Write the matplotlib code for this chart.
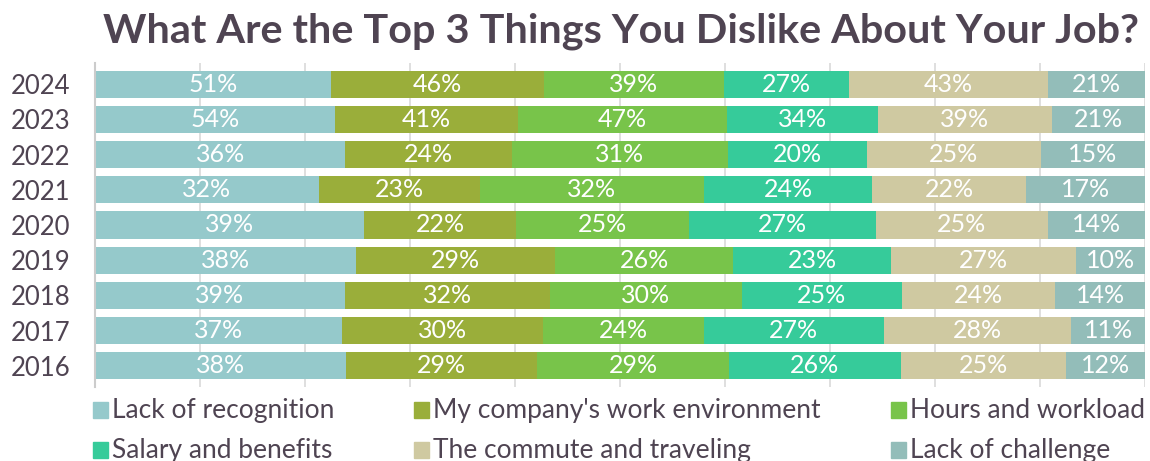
import numpy as np
import matplotlib.pyplot as plt
from matplotlib.patches import Rectangle

plt.rcParams['font.family'] = ['Lato', 'DejaVu Sans']

years = ['2024', '2023', '2022', '2021', '2020', '2019', '2018', '2017', '2016']
categories = ['Lack of recognition', "My company's work environment", 'Hours and workload',
              'Salary and benefits', 'The commute and traveling', 'Lack of challenge']
lack_recognition = [51, 54, 36, 32, 39, 38, 39, 37, 38]
work_environment = [46, 41, 24, 23, 22, 29, 32, 30, 29]
hours_workload = [39, 47, 31, 32, 25, 26, 30, 24, 29]
salary_benefits = [27, 34, 20, 24, 27, 23, 25, 27, 26]
commute = [43, 39, 25, 22, 25, 27, 24, 28, 25]
lack_challenge = [21, 21, 15, 17, 14, 10, 14, 11, 12]

colors = ['#95c9cb', '#9aae3a', '#78c44a', '#36cb9a', '#cfc9a1', '#93bdb9']
text_dark = '#4f4452'

series = np.array([lack_recognition, work_environment, hours_workload,
                   salary_benefits, commute, lack_challenge], dtype=float)
shares = series / series.sum(axis=0)

fig = plt.figure(figsize=(11.5, 4.61), dpi=100)
ax = fig.add_axes([95 / 1150, 1 - 387 / 461, 1050 / 1150, 324 / 461])

ypos = np.arange(len(years))
left = np.zeros(len(years))
for i in range(len(categories)):
    ax.barh(ypos, shares[i], left=left, height=0.77, color=colors[i], zorder=2)
    for j in range(len(years)):
        ax.text(left[j] + shares[i, j] / 2, ypos[j], f'{int(series[i, j])}%',
                ha='center', va='center', color='white', fontsize=18, zorder=3)
    left += shares[i]

ax.set_xlim(0, 1)
ax.set_ylim(len(years) - 0.4, -0.6)
ax.set_xticks(np.linspace(0, 1, 11))
ax.grid(axis='x', color='#d9d9d9', linewidth=1.2, zorder=0)
ax.tick_params(axis='x', length=0, labelbottom=False)
ax.set_yticks(ypos)
ax.set_yticklabels(years, fontsize=18.5, color=text_dark)
ax.tick_params(axis='y', length=0, pad=18)
for side in ['top', 'right', 'bottom']:
    ax.spines[side].set_visible(False)
ax.spines['left'].set_color('#cccccc')
ax.spines['left'].set_linewidth(1.5)

fig.text(621 / 1150, 1 - 31 / 461, 'What Are the Top 3 Things You Dislike About Your Job?',
         ha='center', va='center', fontsize=29.8, fontweight='bold', color=text_dark)

# legend laid out in three columns by hand
leg_x = [93, 414, 891]
leg_y = [410, 450]
for k, name in enumerate(categories):
    x = leg_x[k % 3]
    y = leg_y[k // 3]
    fig.patches.append(Rectangle((x / 1150, 1 - (y + 8) / 461), 15 / 1150, 16 / 461,
                                 transform=fig.transFigure, color=colors[k]))
    fig.text((x + 19) / 1150, 1 - y / 461, name, ha='left', va='center',
             fontsize=19, color=text_dark)

fig.savefig('out.png', dpi=100)
